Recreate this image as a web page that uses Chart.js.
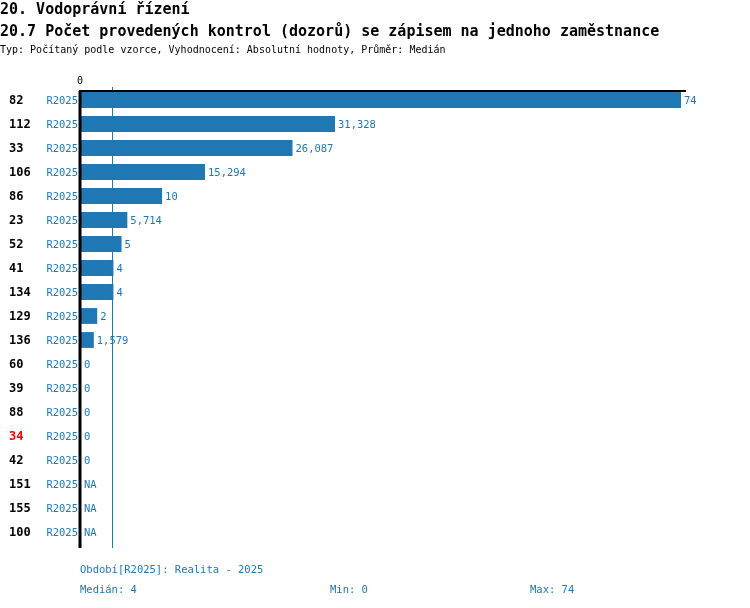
<!DOCTYPE html>
<html>
<head>
<meta charset="utf-8">
<script src="https://cdn.jsdelivr.net/npm/chart.js@4"></script>
<style>
  body { margin: 0; background: #fff; }
  #wrap { position: relative; width: 750px; height: 608px; font-family: "DejaVu Sans Mono", monospace; }
  #chart { position: absolute; left: 0; top: 0; }
  .t { position: absolute; white-space: pre; }
  .h { font-weight: bold; font-size: 15px; color: #000; }
  .s { font-size: 10px; color: #000; }
  .f { font-size: 10.5px; color: #1f77b4; }
</style>
</head>
<body>
<div id="wrap">
  <canvas id="chart" width="750" height="608"></canvas>
  <div class="t h" style="left:0;top:0px">20. Vodoprávní řízení</div>
  <div class="t h" style="left:0;top:22px">20.7 Počet provedených kontrol (dozorů) se zápisem na jednoho zaměstnance</div>
  <div class="t s" style="left:0;top:44px">Typ: Počítaný podle vzorce, Vyhodnocení: Absolutní hodnoty, Průměr: Medián</div>
  <div class="t f" style="left:80px;top:563px">Období[R2025]: Realita - 2025</div>
  <div class="t f" style="left:80px;top:583px">Medián: 4</div>
  <div class="t f" style="left:330px;top:583px">Min: 0</div>
  <div class="t f" style="left:530px;top:583px">Max: 74</div>
</div>
<script>
const ids = ['82', '112', '33', '106', '86', '23', '52', '41', '134', '129', '136', '60', '39', '88', '34', '42', '151', '155', '100'];
const periods = Array(ids.length).fill('R2025');
const values = [74, 31.328, 26.087, 15.294, 10, 5.714, 5, 4, 4, 2, 1.579, 0, 0, 0, 0, 0, null, null, null];
const highlighted = ['34'];
const median = 4;
const xMax = 74;

const blue = '#1f77b4';
const mono = '"DejaVu Sans Mono", monospace';

function fmt(v) {
    if (v === null) return 'NA';
    return String(v).replace('.', ',');
}

// Draws the left labels, value labels, axis and median line
const decorations = {
    id: 'decorations',
    afterDatasetsDraw(chart) {
        const ctx = chart.ctx;
        const xs = chart.scales.x;
        const ys = chart.scales.y;
        const area = chart.chartArea;
        const x0 = xs.getPixelForValue(0);
        const meta = chart.getDatasetMeta(0);
        const top = meta.data[0].y - meta.data[0].height / 2 - 1;

        ctx.save();
        // median line
        const mx = Math.floor(xs.getPixelForValue(median)) - 0.5;
        ctx.strokeStyle = blue;
        ctx.lineWidth = 1;
        ctx.beginPath();
        ctx.moveTo(mx, area.top - 1);
        ctx.lineTo(mx, area.bottom + 4);
        ctx.stroke();

        // axis and top line
        ctx.strokeStyle = '#000';
        ctx.lineWidth = 3;
        ctx.beginPath();
        ctx.moveTo(x0 - 1, area.bottom + 4);
        ctx.lineTo(x0 - 1, top);
        ctx.stroke();
        ctx.lineWidth = 2;
        ctx.beginPath();
        ctx.moveTo(x0 - 2, top);
        ctx.lineTo(xs.getPixelForValue(xMax) + 5, top);
        ctx.stroke();

        ctx.fillStyle = '#000';
        ctx.font = '10px ' + mono;
        ctx.textAlign = 'center';
        ctx.textBaseline = 'alphabetic';
        ctx.fillText('0', x0 - 1, 84);

        ctx.textBaseline = 'middle';
        ids.forEach((id, i) => {
            const y = ys.getPixelForValue(i) + 1;
            ctx.textAlign = 'left';
            ctx.font = 'bold 12px ' + mono;
            ctx.fillStyle = highlighted.includes(id) ? '#ff0000' : '#000';
            ctx.fillText(id, 9, y);

            ctx.textAlign = 'right';
            ctx.font = '10.5px ' + mono;
            ctx.fillStyle = blue;
            ctx.fillText(periods[i], 78, y);

            const v = values[i];
            const end = v === null ? x0 : xs.getPixelForValue(v);
            ctx.textAlign = 'left';
            ctx.fillText(fmt(v), end + 3, y);
        });
        ctx.restore();
    }
};

new Chart(document.getElementById('chart'), {
    type: 'bar',
    data: {
        labels: ids,
        datasets: [{
            data: values,
            backgroundColor: blue,
            borderWidth: 0,
            categoryPercentage: 1,
            barPercentage: 0.66
        }]
    },
    options: {
        indexAxis: 'y',
        responsive: false,
        animation: false,
        layout: { padding: { left: 81, right: 69, top: 88, bottom: 64 } },
        scales: {
            x: { display: false, min: 0, max: xMax },
            y: { display: false }
        },
        plugins: { legend: { display: false }, tooltip: { enabled: false } }
    },
    plugins: [decorations]
});
</script>
</body>
</html>
